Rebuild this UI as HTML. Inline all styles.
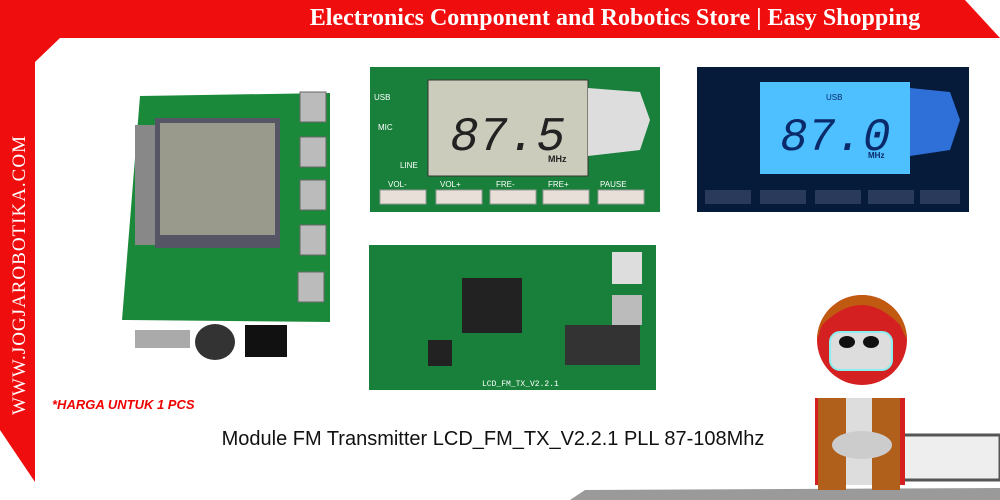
<!DOCTYPE html>
<html><head><meta charset="utf-8"><style>
html,body{margin:0;padding:0;background:#fff;width:1000px;height:500px;overflow:hidden}
svg text{font-family:"Liberation Sans",sans-serif}
</style></head><body>
<svg width="1000" height="500" viewBox="0 0 1000 500" xmlns="http://www.w3.org/2000/svg">
<rect width="1000" height="500" fill="#fff"/>
<polygon points="0,0 965,0 1000,38 60,38 35,62 35,482 0,430" fill="#f00d0d"/>
<text x="615" y="25" text-anchor="middle" font-size="24" fill="#fff" font-weight="bold" style="font-family:'Liberation Serif',serif">Electronics Component and Robotics Store | Easy Shopping</text>
<text transform="translate(25,415) rotate(-90)" font-size="19" fill="#fff" style="font-family:'Liberation Serif',serif" letter-spacing="1">WWW.JOGJAROBOTIKA.COM</text>
<polygon points="585,490 1000,488 1000,500 570,500" fill="#9a9a9a"/>
<!-- left PCB -->
<polygon points="140,96 330,93 330,322 122,320" fill="#1a8a3a"/>
<rect x="135" y="330" width="55" height="18" fill="#aaa"/>
<ellipse cx="215" cy="342" rx="20" ry="18" fill="#333"/>
<rect x="245" y="325" width="42" height="32" fill="#111"/>
<rect x="155" y="118" width="125" height="130" fill="#556"/>
<rect x="160" y="123" width="115" height="112" fill="#9a9a8c"/>
<rect x="135" y="125" width="20" height="120" fill="#888"/>
<g fill="#bbb" stroke="#666"><rect x="300" y="92" width="26" height="30"/><rect x="300" y="137" width="26" height="30"/><rect x="300" y="180" width="26" height="30"/><rect x="300" y="225" width="26" height="30"/><rect x="298" y="272" width="26" height="30"/></g>
<!-- top middle PCB -->
<rect x="370" y="67" width="290" height="145" fill="#18803a"/>
<rect x="428" y="80" width="160" height="96" fill="#ccccbc" stroke="#333"/>
<polygon points="588,88 640,92 650,120 640,150 588,156" fill="#ddd"/>
<text x="450" y="150" font-size="48" font-style="italic" fill="#222" style="font-family:'Liberation Mono',monospace">87.5</text>
<text x="548" y="162" font-size="9" fill="#222" font-weight="bold">MHz</text>
<g fill="#e8e0d8" stroke="#999"><rect x="380" y="190" width="46" height="14"/><rect x="436" y="190" width="46" height="14"/><rect x="490" y="190" width="46" height="14"/><rect x="543" y="190" width="46" height="14"/><rect x="598" y="190" width="46" height="14"/></g>
<g font-size="8" fill="#fff"><text x="388" y="187">VOL-</text><text x="440" y="187">VOL+</text><text x="496" y="187">FRE-</text><text x="548" y="187">FRE+</text><text x="600" y="187">PAUSE</text><text x="374" y="100">USB</text><text x="378" y="130">MIC</text><text x="400" y="168">LINE</text></g>
<!-- right blue PCB -->
<rect x="697" y="67" width="272" height="145" fill="#061a3a"/>
<rect x="760" y="82" width="150" height="92" fill="#4ec0ff"/>
<polygon points="910,88 950,92 960,120 950,150 910,156" fill="#2e6fd8"/>
<text x="780" y="150" font-size="46" font-style="italic" fill="#0a2a6a" style="font-family:'Liberation Mono',monospace">87.0</text>
<text x="868" y="158" font-size="8" fill="#0a2a6a" font-weight="bold">MHz</text>
<text x="826" y="100" font-size="8" fill="#0a2a6a">USB</text>
<g fill="#2a3a5a"><rect x="705" y="190" width="46" height="14"/><rect x="760" y="190" width="46" height="14"/><rect x="815" y="190" width="46" height="14"/><rect x="868" y="190" width="46" height="14"/><rect x="920" y="190" width="40" height="14"/></g>
<!-- bottom middle PCB -->
<rect x="369" y="245" width="287" height="145" fill="#18803a"/>
<rect x="462" y="278" width="60" height="55" fill="#222"/>
<rect x="612" y="252" width="30" height="32" fill="#ddd"/>
<rect x="612" y="295" width="30" height="30" fill="#bbb"/>
<rect x="565" y="325" width="75" height="40" fill="#333"/>
<rect x="428" y="340" width="24" height="26" fill="#222"/>
<text x="482" y="386" font-size="8" fill="#fff" style="font-family:'Liberation Mono',monospace">LCD_FM_TX_V2.2.1</text>
<text x="52" y="409" font-size="13" font-weight="bold" font-style="italic" fill="#e00">*HARGA UNTUK 1 PCS</text>
<text x="493" y="445" text-anchor="middle" font-size="20" fill="#111">Module FM Transmitter LCD_FM_TX_V2.2.1 PLL 87-108Mhz</text>
<!-- robot -->
<rect x="895" y="435" width="105" height="45" fill="#eee" stroke="#555" stroke-width="3"/>
<circle cx="862" cy="340" r="45" fill="#d42020"/>
<path d="M817,340 A45,45 0 0 1 907,340 L900,325 Q862,285 822,325 Z" fill="#c05a10"/>
<rect x="830" y="332" width="62" height="38" rx="10" fill="#ddd" stroke="#8ee" stroke-width="2"/>
<ellipse cx="847" cy="342" rx="8" ry="6" fill="#111"/><ellipse cx="871" cy="342" rx="8" ry="6" fill="#111"/>
<rect x="815" y="398" width="90" height="87" fill="#d42020"/>
<rect x="818" y="398" width="28" height="92" fill="#b0601a"/>
<rect x="872" y="398" width="28" height="92" fill="#b0601a"/>
<rect x="846" y="398" width="26" height="87" fill="#ddd"/>
<ellipse cx="862" cy="445" rx="30" ry="14" fill="#ccc"/>
</svg>
</body></html>
